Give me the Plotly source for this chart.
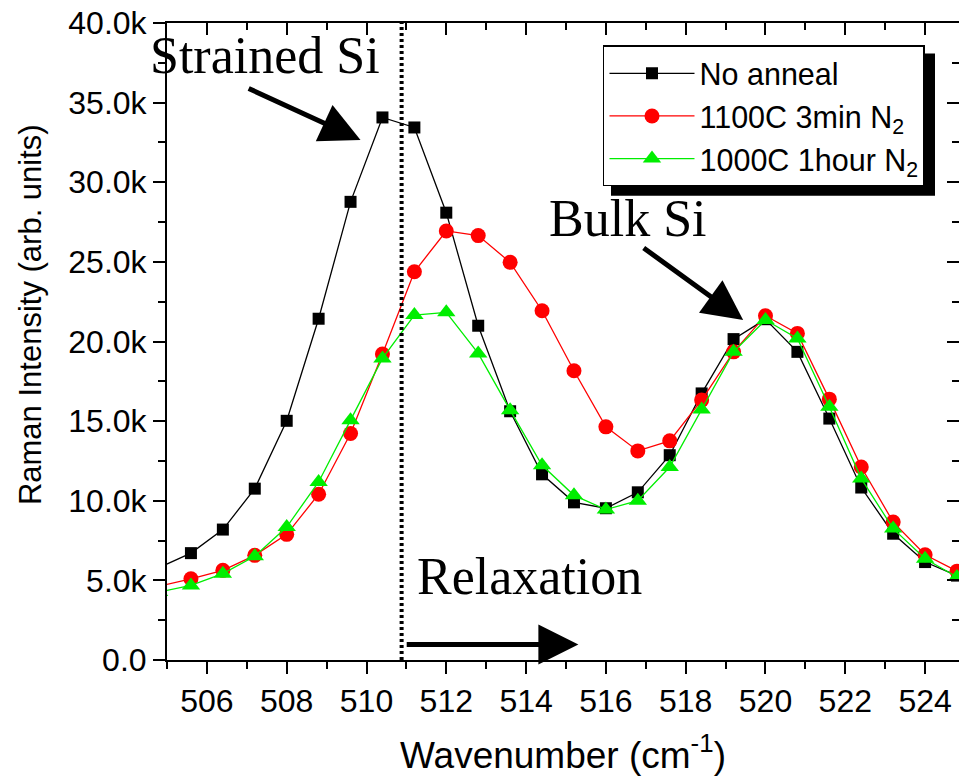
import plotly.graph_objects as go

wavenumber = [504.8, 505.6, 506.4, 507.2, 508.0, 508.8, 509.6, 510.4, 511.2, 512.0, 512.8,
              513.6, 514.4, 515.2, 516.0, 516.8, 517.6, 518.4, 519.2, 520.0, 520.8,
              521.6, 522.4, 523.2, 524.0, 524.8]

no_anneal = [5800, 6710, 8190, 10760, 15020, 21430, 28770, 34070, 33440, 28090, 20990,
             15620, 11660, 9900, 9530, 10530, 12860, 16740, 20150, 21400, 19350,
             15160, 10830, 7930, 6150, 5300]

anneal_1100 = [4630, 5100, 5630, 6570, 7890, 10410, 14220, 19210, 24380, 26940, 26650,
               24970, 21930, 18160, 14640, 13130, 13760, 16320, 19350, 21620, 20510,
               16380, 12120, 8660, 6610, 5580]

anneal_1000 = [4270, 4680, 5420, 6510, 8350, 11180, 15060, 18940, 21660, 21830, 19250,
               15690, 12230, 10340, 9450, 10000, 12120, 15730, 19350, 21350, 20190,
               15900, 11390, 8250, 6360, 5210]

series_names = ["No anneal", "1100C 3min N<sub>2</sub>", "1000C 1hour N<sub>2</sub>"]

x_tickvals = [506, 508, 510, 512, 514, 516, 518, 520, 522, 524]
x_ticktext = ["506", "508", "510", "512", "514", "516", "518", "520", "522", "524"]
y_tickvals = [0, 5000, 10000, 15000, 20000, 25000, 30000, 35000, 40000]
y_ticktext = ["0.0", "5.0k", "10.0k", "15.0k", "20.0k", "25.0k", "30.0k", "35.0k", "40.0k"]

X_RANGE = [505.0, 524.85]
Y_RANGE = [0, 40000]
DIVIDER_X = 510.88

SANS = "Liberation Sans, Arial, sans-serif"
SERIF = "Liberation Serif, Times New Roman, serif"

fig = go.Figure()

fig.add_trace(go.Scatter(x=wavenumber, y=no_anneal, name=series_names[0], mode="lines+markers",
                         line=dict(color="black", width=1.3),
                         marker=dict(symbol="square", size=12, color="black")))
fig.add_trace(go.Scatter(x=wavenumber, y=anneal_1100, name=series_names[1], mode="lines+markers",
                         line=dict(color="#ff0000", width=1.3),
                         marker=dict(symbol="circle", size=15, color="#ff0000")))
fig.add_trace(go.Scatter(x=wavenumber, y=anneal_1000, name=series_names[2], mode="lines+markers",
                         line=dict(color="#00ee00", width=1.3),
                         marker=dict(symbol="triangle-up", size=16, color="#00ee00")))
# helper trace for mirrored (top/right) axes
fig.add_trace(go.Scatter(x=[X_RANGE[0]], y=[Y_RANGE[0]], xaxis="x2", yaxis="y2", mode="markers",
                         marker=dict(opacity=0), showlegend=False, hoverinfo="skip"))

axis_common = dict(showgrid=False, zeroline=False, linecolor="black", linewidth=2,
                   tickcolor="black", tickwidth=2)

fig.update_layout(
    width=959, height=776,
    margin=dict(l=167, r=0, t=23, b=116, autoexpand=False),
    paper_bgcolor="white", plot_bgcolor="white",
    xaxis=dict(range=X_RANGE, tickvals=x_tickvals, ticktext=x_ticktext, ticks="outside", ticklen=12,
               showline=True, tickfont=dict(family=SANS, size=32, color="black"),
               minor=dict(ticks="outside", ticklen=7, tickwidth=2, tickcolor="black", dtick=1, tick0=505),
               **axis_common),
    yaxis=dict(range=Y_RANGE, tickvals=y_tickvals, ticktext=y_ticktext, ticks="outside", ticklen=12,
               showline=True, tickfont=dict(family=SANS, size=32, color="black"),
               minor=dict(ticks="outside", ticklen=7, tickwidth=2, tickcolor="black", dtick=2500, tick0=0),
               **axis_common),
    xaxis2=dict(range=X_RANGE, overlaying="x", side="top", anchor="y2", tickvals=x_tickvals,
                showticklabels=False, ticks="inside", ticklen=12, showline=True,
                minor=dict(ticks="inside", ticklen=7, tickwidth=2, tickcolor="black", dtick=1, tick0=505),
                **axis_common),
    yaxis2=dict(range=Y_RANGE, overlaying="y", side="right", anchor="x2", tickvals=y_tickvals,
                showticklabels=False, ticks="inside", ticklen=12, showline=False,
                minor=dict(ticks="inside", ticklen=7, tickwidth=2, tickcolor="black", dtick=2500, tick0=0),
                **axis_common),
    showlegend=True,
    legend=dict(x=0.5505, y=0.9647, xanchor="left", yanchor="top", bgcolor="white",
                bordercolor="black", borderwidth=1.5, font=dict(family=SANS, size=30.5, color="black"),
                itemwidth=85, tracegroupgap=0),
)

# divider
fig.add_shape(type="line", x0=DIVIDER_X, x1=DIVIDER_X, y0=Y_RANGE[0], y1=Y_RANGE[1], xref="x", yref="y",
              line=dict(color="black", width=4, dash="3px,3px"))
# legend shadow
fig.add_shape(type="rect", xref="paper", yref="paper", x0=0.5606, x1=0.9697, y0=0.729, y1=0.952,
              fillcolor="black", line=dict(width=0), layer="above")

# axis titles
fig.add_annotation(text="Wavenumber (cm<sup>-1</sup>)", xref="paper", yref="paper", x=0.5, y=-0.145,
                   xanchor="center", yanchor="middle", showarrow=False,
                   font=dict(family=SANS, size=37, color="black"))
fig.add_annotation(text="Raman Intensity (arb. units)", xref="paper", yref="paper", x=-0.173, y=0.543,
                   xanchor="center", yanchor="middle", textangle=-90, showarrow=False,
                   font=dict(family=SANS, size=31, color="black"))

# text labels
for txt, xx, yy in [("Strained Si", 507.46, 37930), ("Bulk Si", 516.55, 27720), ("Relaxation", 514.08, 5230)]:
    fig.add_annotation(text=txt, x=xx, y=yy, xref="x", yref="y", showarrow=False,
                       font=dict(family=SERIF, size=52, color="black"))

# arrows
for (tx, ty, sx, sy) in [(509.85, 32660, 507.01, 35930), (519.44, 21350, 516.91, 25940),
                         (515.31, 975, 510.97, 975)]:
    fig.add_annotation(text="", x=tx, y=ty, ax=sx, ay=sy, xref="x", yref="y", axref="x", ayref="y",
                       showarrow=True, arrowhead=2, arrowsize=1.6, arrowwidth=5, arrowcolor="black")

fig.write_html("out.html")
